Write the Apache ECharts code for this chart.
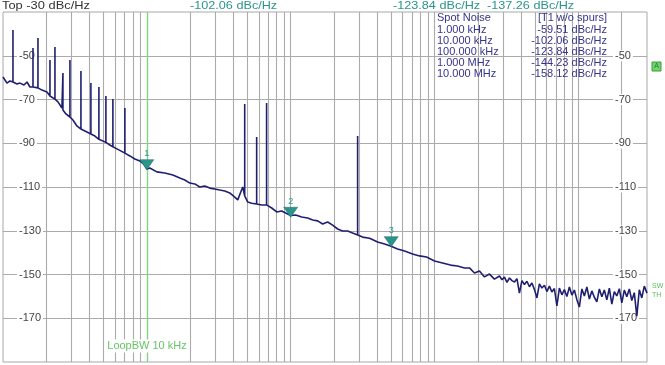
<!DOCTYPE html>
<html>
<head>
<meta charset="utf-8">
<script src="https://cdn.jsdelivr.net/npm/echarts@6/dist/echarts.min.js"></script>
<style>html,body{margin:0;padding:0;background:#fff;}#c{width:665px;height:365px;}</style>
</head>
<body>
<div id="c"></div>
<script>
// ---- data (frequency in kHz, level in dBc/Hz) ----
const noiseFreqKHz = [
  1.00, 1.032, 1.066, 1.118, 1.173, 1.251, 1.312, 1.399, 1.468, 1.540, 1.616, 1.750, 1.866, 2.021, 2.121, 2.297, 2.41, 2.569, 2.61, 2.738,
  2.920, 3.063, 3.265, 3.482, 3.710, 4.084, 4.355, 4.642, 5.192, 5.535, 5.807, 6.290, 7.035, 7.62, 8.254, 8.94, 9.53, 10.0,
  10.49, 11.73, 13.33, 15.16, 16.95, 18.36, 19.89, 21.54, 23.35, 25.28, 27.38, 29.66, 32.13, 34.8, 37.7, 40.84, 42.85, 44.97, 46.42, 47.9,
  50.27, 53.6, 58.0, 62.9, 68.0, 73.8, 79.9, 86.6, 92.3, 100,
  108.3, 119.2, 131.2, 142.2, 154.0, 166.8, 180.7, 195.7, 212.1, 229.7, 248.8, 269.5, 292, 316.2, 353.7, 401.8, 449.6, 494.6, 553.2, 619,
  703.6, 786.9, 879.9, 1000,
  1136, 1291, 1445, 1616, 1750, 1896, 2054, 2224, 2410, 2610,
  2828, 2943, 3063, 3188, 3318, 3453, 3594, 3741, 3893, 4052, 4217, 4389, 4568, 4754, 4948, 5150, 5360, 5578, 5806, 6043,
  6289, 6546, 6812, 7090, 7379, 7680, 7993, 8318, 8660, 9014, 9380, 9763, 10160, 10576, 11007, 11455, 11922, 12409, 12915, 13442,
  13990, 14561, 15155, 15772, 16416, 17085, 17783, 18508, 19263, 20048, 20865, 21717, 22603, 23524, 24484, 25483, 26522, 27606, 28730, 30000
];
const noiseDbc = [
  -59.7, -61.1, -62.5, -61.5, -62.0, -62.9, -62.5, -63.4, -62.0, -64.3, -64.3, -64.7, -65.7, -66.6, -68.4, -69.8, -71.1, -73.9, -74.8, -76.6,
  -78.0, -79.4, -82.1, -83.5, -84.4, -85.8, -86.7, -88.2, -89.6, -90.8, -91.6, -92.8, -94.5, -95.8, -97.2, -98.1, -99.5, -101.8,
  -101.3, -103.1, -103.6, -104.5, -105.9, -106.8, -108.2, -108.6, -110.0, -109.5, -110.5, -110.9, -111.4, -111.8, -112.7, -114.6, -115.9, -112.3, -110.0, -114.1,
  -116.9, -117.4, -117.8, -118.2, -118.2, -119.6, -121.4, -121.0, -121.9, -123.0,
  -122.8, -123.7, -124.2, -125.1, -125.5, -126.9, -126.0, -127.4, -129.2, -130.1, -130.1, -131.0, -131.9, -132.9, -133.4, -135.1, -136.1, -137.0, -138.3, -139.3,
  -140.6, -141.5, -142.0, -143.8,
  -144.7, -145.7, -146.1, -147.0, -147.0, -149.3, -148.4, -151.1, -149.8, -152.1,
  -150.7, -152.4, -151.2, -153.6, -151.6, -152.8, -153.4, -151.9, -158.5, -152.8, -154.6, -153.1, -155.6, -153.9, -156.8, -160.7, -154.3, -156.2, -154.9, -157.8,
  -155.3, -158.0, -156.4, -164.4, -156.2, -159.3, -156.9, -160.1, -155.7, -159.4, -157.1, -161.5, -164.9, -156.6, -159.8, -155.7, -161.2, -157.5, -160.4, -162.5,
  -156.6, -160.2, -157.1, -161.6, -156.2, -163.5, -157.8, -159.8, -156.5, -163.0, -157.1, -160.2, -156.6, -161.9, -158.3, -169.0, -157.0, -160.7, -155.3, -158.5
];
const spurFreqKHz = [1.173, 1.616, 1.750, 2.121, 2.297, 2.61, 2.920, 3.482, 4.084, 4.642, 5.192, 5.807, 7.035, 47.9, 58.0, 68.0, 292];
const spurPeakDbc = [-38.2, -46.5, -41.9, -51.9, -46.0, -57.9, -51.9, -57.0, -62.4, -64.3, -68.4, -69.8, -73.9, -72.1, -87.1, -71.6, -86.7];

const markerNames = ['1', '2', '3'];
const markerFreqKHz = [10, 100, 500];
const markerDbc = [-102.06, -123.84, -137.26];

const spotFreqLabels = ['1.000 kHz', '10.000 kHz', '100.000 kHz', '1.000 MHz', '10.000 MHz'];
const spotDbc = [-59.51, -102.06, -123.84, -144.23, -158.12];

const gridFreqKHz = [2,3,4,5,6,7,8,9,10,20,30,40,50,60,70,80,90,100,200,300,400,500,600,700,800,900,1000,
  2000,3000,4000,5000,6000,7000,8000,9000,10000,20000];
const yTicks = [-170, -150, -130, -110, -90, -70, -50];
const loopBwKHz = 10;

// ---- build trace ----
const trace = [];
noiseFreqKHz.forEach((f, i) => {
  trace.push([f, noiseDbc[i]]);
  const j = spurFreqKHz.indexOf(f);
  if (j >= 0) {
    trace.push([f, spurPeakDbc[j]]);
    trace.push([f, noiseDbc[i]]);
  }
});

const teal = '#2b958c';
const navy = '#35358a';
const fmt = v => v.toFixed(2) + ' dBc/Hz';

const graphics = [
  {type:'text', x:2, y:0, scaleX:1.17, z:20, style:{text:'Top -30 dBc/Hz', font:'11px "Liberation Sans"', fill:'#333'}},
  {type:'text', x:190, y:0, scaleX:1.15, z:20, style:{text:fmt(markerDbc[0]), font:'11px "Liberation Sans"', fill:teal}},
  {type:'text', x:393, y:0, scaleX:1.15, z:20, style:{text:fmt(markerDbc[1]), font:'11px "Liberation Sans"', fill:teal}},
  {type:'text', x:487, y:0, scaleX:1.15, z:20, style:{text:fmt(markerDbc[2]), font:'11px "Liberation Sans"', fill:teal}},
  {type:'text', x:437, y:12, z:20, style:{text:'Spot Noise', font:'11px "Liberation Sans"', fill:navy}},
  {type:'text', x:607, y:12, z:20, style:{text:'[T1 w/o spurs]', font:'11px "Liberation Sans"', fill:navy, align:'right'}},
  {type:'text', x:147, y:346, z:20, style:{text:'LoopBW 10 kHz', font:'11px "Liberation Sans"', fill:'#66c466', align:'center', verticalAlign:'middle', backgroundColor:'#fff', padding:[1,2]}},
  {type:'text', x:652, y:282, z:20, style:{text:'SW\nTH', font:'7px "Liberation Sans"', fill:'#5cbf5c', lineHeight:9}},
  {type:'rect', x:652, y:62, z:20, shape:{width:9, height:9}, style:{fill:'#6fd36f', stroke:'#3c9c3c', lineWidth:1}},
  {type:'text', x:656.5, y:66.5, z:21, style:{text:'A', font:'7px "Liberation Sans"', fill:'#2c7a2c', align:'center', verticalAlign:'middle'}}
];
spotFreqLabels.forEach((lab, i) => {
  const y = 24 + i * 11.2;
  graphics.push({type:'text', x:437, y:y, z:20, style:{text:lab, font:'11px "Liberation Sans"', fill:navy}});
  graphics.push({type:'text', x:607, y:y, z:20, style:{text:fmt(spotDbc[i]), font:'11px "Liberation Sans"', fill:navy, align:'right'}});
});

const yAxisCommon = {
  type:'value', min:-190, max:-30, interval:20, z:4,
  axisLine:{show:false}, axisTick:{show:false}, splitLine:{show:false},
  axisLabel:{show:true, inside:true, align:'left', color:'#444', fontSize:11, fontFamily:'Liberation Sans',
    backgroundColor:'#fff', padding:[0,2], showMinLabel:false, showMaxLabel:false}
};

const option = {
  animation:false,
  backgroundColor:'#fff',
  grid:{left:3, right:18, top:12, bottom:3, show:true, borderColor:'#a8a8a8', borderWidth:1, backgroundColor:'#fff'},
  xAxis:{type:'log', logBase:10, min:1, max:30000, axisLine:{show:false}, axisTick:{show:false}, axisLabel:{show:false}, splitLine:{show:false}},
  yAxis:[
    Object.assign({}, yAxisCommon, {position:'left', axisLabel:Object.assign({}, yAxisCommon.axisLabel, {margin:14})}),
    Object.assign({}, yAxisCommon, {position:'right', axisLabel:Object.assign({}, yAxisCommon.axisLabel, {margin:34})})
  ],
  graphic:graphics,
  series:[
    {
      type:'line', name:'grid', data:[[1,-190]], showSymbol:false, symbol:'none', silent:true, z:1,
      lineStyle:{opacity:0},
      markLine:{
        silent:true, symbol:['none','none'], z:1, animation:false,
        label:{show:false}, emphasis:{disabled:true},
        lineStyle:{color:'#ababab', width:1.1, type:'solid'},
        data: gridFreqKHz.map(f => ({xAxis:f})).concat(yTicks.map(v => ({yAxis:v})))
      }
    },
    {
      type:'line', name:'loopbw', data:[[1,-190]], showSymbol:false, symbol:'none', silent:true, z:3,
      lineStyle:{opacity:0},
      markLine:{
        silent:true, symbol:['none','none'], z:3, animation:false,
        label:{show:false}, emphasis:{disabled:true},
        lineStyle:{color:'#7fd67f', width:1.3, type:'solid'},
        data:[{xAxis:loopBwKHz}]
      }
    },
    {
      type:'line', name:'T1', data:trace, showSymbol:false, symbol:'none', z:10,
      lineStyle:{color:'#1f1f70', width:1.6},
      markPoint:{
        z:12, animation:false, silent:true,
        symbol:'path://M0,0 L14,0 L7,10 Z', symbolSize:[14,10], symbolOffset:[0,'-50%'],
        itemStyle:{color:teal, borderColor:'#1d6f69', borderWidth:0.5},
        label:{show:true, position:'top', distance:1, color:teal, fontSize:9, fontFamily:'Liberation Sans'},
        data: markerNames.map((n, i) => ({name:n, coord:[markerFreqKHz[i], markerDbc[i]], label:{formatter:n}}))
      }
    }
  ]
};
const chart = echarts.init(document.getElementById('c'), null, {renderer:'canvas'});
chart.setOption(option);
</script>
</body>
</html>
